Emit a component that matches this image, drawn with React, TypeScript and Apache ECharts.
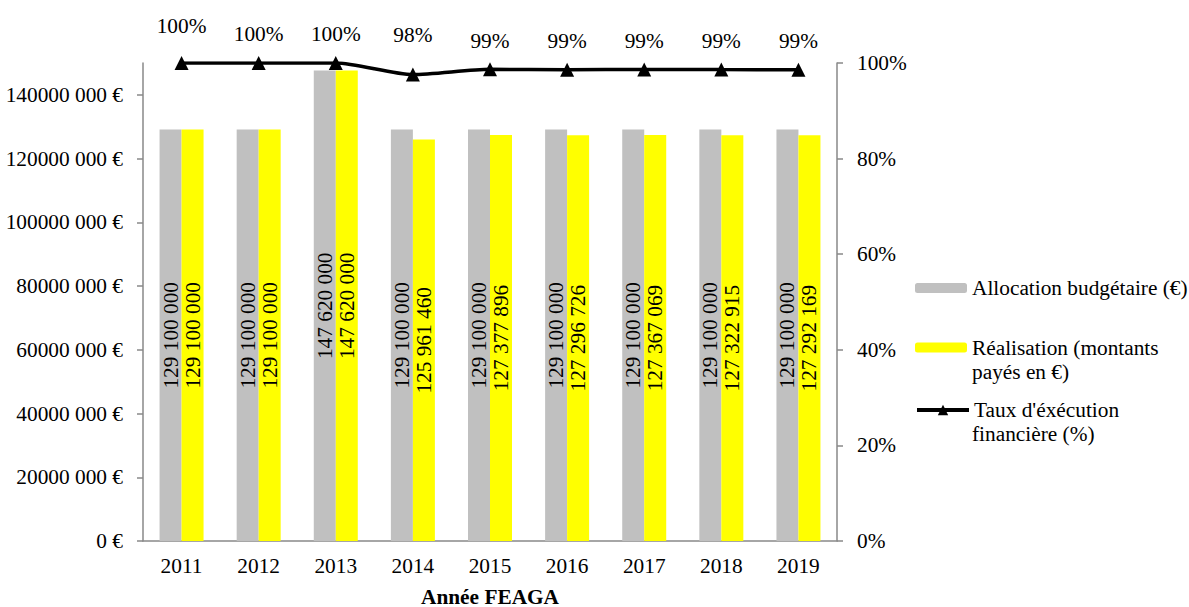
import React, { useEffect, useRef } from "react";
import * as echarts from "echarts";

const categories = ["2011", "2012", "2013", "2014", "2015", "2016", "2017", "2018", "2019"];
const allocation = [129100000, 129100000, 147620000, 129100000, 129100000, 129100000, 129100000, 129100000, 129100000];
const realisation = [129100000, 129100000, 147620000, 125961460, 127377896, 127296726, 127367069, 127322915, 127292169];
const taux = [100, 100, 100, 97.57, 98.67, 98.6, 98.66, 98.62, 98.6];
const leftTicks = [0, 20000000, 40000000, 60000000, 80000000, 100000000, 120000000, 140000000];
const leftTickLabels = ["0 €", "20000 000 €", "40000 000 €", "60000 000 €", "80000 000 €", "100000 000 €", "120000 000 €", "140000 000 €"];
const rightTicks = [0, 20, 40, 60, 80, 100];

const seriesNames = ["Allocation budgétaire (€)", "Réalisation (montants", "Taux d'éxécution"];
const seriesSecondLines = ["", "payés en €)", "financière (%)"];

const FONT = "Times New Roman";
const FS = 21.33;
const AXIS_COLOR = "#898989";
const labelDistances = [20, 12, 12, 22, 11, 11, 11, 11, 11];

const fmt = (n: number) => String(n).replace(/\B(?=(\d{3})+(?!\d))/g, " ");

export default function App() {
  const ref = useRef<HTMLDivElement>(null);
  useEffect(() => {
    if (!ref.current) return;
    const chart = echarts.init(ref.current, undefined, { renderer: "svg" });
    const barLabel = {
      show: true,
      position: "inside",
      rotate: 90,
      color: "#000",
      fontFamily: FONT,
      fontSize: FS,
      formatter: (p: any) => fmt(p.value),
    };
    const legendBase = {
      orient: "vertical",
      left: 915,
      padding: 0,
      itemWidth: 52,
      itemHeight: 10,
      textStyle: { fontFamily: FONT, fontSize: FS, color: "#000", lineHeight: 25 },
    };
    chart.setOption({
      animation: false,
      textStyle: { fontFamily: FONT },
      grid: { left: 143, right: 352, top: 63, bottom: 66, containLabel: false, outerBoundsMode: "none" },
      legend: [
        { ...legendBase, top: 275.5, data: [seriesNames[0]] },
        { ...legendBase, top: 335, data: [seriesNames[1]] },
        { ...legendBase, top: 397.5, itemHeight: 13, lineStyle: { width: 4 }, data: [seriesNames[2]] },
      ],
      graphic: [
        { type: "text", left: 972, top: 361, style: { text: seriesSecondLines[1], fontFamily: FONT, fontSize: FS, fill: "#000" } },
        { type: "text", left: 972, top: 423, style: { text: seriesSecondLines[2], fontFamily: FONT, fontSize: FS, fill: "#000" } },
      ],
      xAxis: {
        type: "category",
        data: categories,
        name: "Année FEAGA",
        nameLocation: "middle",
        nameGap: 45,
        nameTextStyle: { fontFamily: FONT, fontSize: FS, fontWeight: "bold", color: "#000" },
        axisLine: { lineStyle: { color: AXIS_COLOR, width: 1.5 } },
        axisTick: { length: 6, lineStyle: { color: AXIS_COLOR, width: 1.5 } },
        axisLabel: { color: "#000", fontFamily: FONT, fontSize: FS, margin: 14 },
      },
      yAxis: [
        {
          type: "value",
          min: 0,
          max: 150000000,
          interval: 10000000,
          splitLine: { show: false },
          axisLine: { show: true, lineStyle: { color: AXIS_COLOR, width: 1.5 } },
          axisTick: { show: true, length: 6, customValues: leftTicks, lineStyle: { color: AXIS_COLOR, width: 1.5 } },
          axisLabel: {
            customValues: leftTicks,
            color: "#000",
            fontFamily: FONT,
            fontSize: FS,
            margin: 20,
            formatter: (v: number) => leftTickLabels[leftTicks.indexOf(v)] ?? "",
          },
        },
        {
          type: "value",
          min: 0,
          max: 100,
          interval: 20,
          position: "right",
          splitLine: { show: false },
          axisLine: { show: true, lineStyle: { color: AXIS_COLOR, width: 1.5 } },
          axisTick: { show: true, length: 6, customValues: rightTicks, lineStyle: { color: AXIS_COLOR, width: 1.5 } },
          axisLabel: { color: "#000", fontFamily: FONT, fontSize: FS, margin: 20, formatter: "{value}%" },
        },
      ],
      series: [
        {
          name: seriesNames[0],
          type: "bar",
          data: allocation,
          barWidth: 22,
          barGap: "0%",
          itemStyle: { color: "#c0c0c0" },
          label: barLabel,
        },
        {
          name: seriesNames[1],
          type: "bar",
          data: realisation,
          barWidth: 22,
          barGap: "0%",
          itemStyle: { color: "#ffff00" },
          label: barLabel,
        },
        {
          name: seriesNames[2],
          type: "line",
          yAxisIndex: 1,
          smooth: 0.25,
          data: taux.map((v, i) => ({ value: v, label: { distance: labelDistances[i] } })),
          symbol: "triangle",
          symbolSize: 14,
          lineStyle: { color: "#000", width: 3.5 },
          itemStyle: { color: "#000" },
          z: 5,
          label: {
            show: true,
            position: "top",
            color: "#000",
            fontFamily: FONT,
            fontSize: FS,
            formatter: (p: any) => Math.round(p.value) + "%",
          },
        },
      ],
    });
    return () => chart.dispose();
  }, []);
  return <div ref={ref} style={{ position: "fixed", left: 0, top: 0, width: 1189, height: 607, background: "#fff" }} />;
}
